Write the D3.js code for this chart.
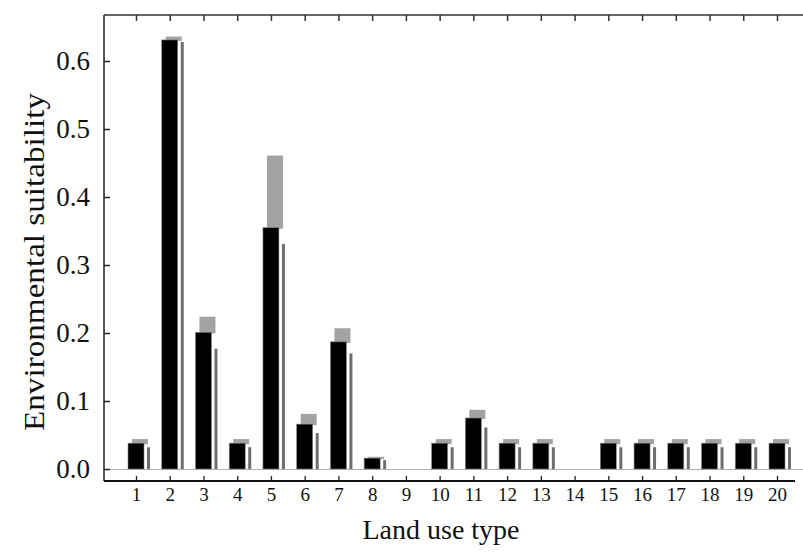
<!DOCTYPE html>
<html>
<head>
<meta charset="utf-8">
<script src="https://cdn.jsdelivr.net/npm/d3@7"></script>
<style>
  body { margin: 0; background: #fff; }
  text { font-family: "Liberation Serif", "Times New Roman", serif; fill: #111; }
</style>
</head>
<body>
<div class="chart"></div>
<script>
// ------------------------------------------------------
const width = 803;
const height = 553;
const categories = ['1','2','3','4','5','6','7','8','9','10','11','12','13','14','15','16','17','18','19','20'];
// mean (black), upper (light gray), lower (dark gray sliver)
const meanValues  = [0.038, 0.631, 0.201, 0.038, 0.355, 0.066, 0.187, 0.016, 0, 0.038, 0.075, 0.038, 0.038, 0, 0.038, 0.038, 0.038, 0.038, 0.038, 0.038];
const upperValues = [0.044, 0.636, 0.224, 0.044, 0.461, 0.081, 0.207, 0.018, 0, 0.044, 0.087, 0.044, 0.044, 0, 0.044, 0.044, 0.044, 0.044, 0.044, 0.044];
const lowerValues = [0.032, 0.628, 0.177, 0.032, 0.331, 0.053, 0.170, 0.013, 0, 0.032, 0.061, 0.032, 0.032, 0, 0.032, 0.032, 0.032, 0.032, 0.032, 0.032];
const yTicks = [0, 0.1, 0.2, 0.3, 0.4, 0.5, 0.6];
// ------------------------------------------------------
const plotLeft = 104, plotRight = 803, plotTop = 15, plotBottom = 481;
const x = d3.scalePoint().domain(categories).range([136, 777]);
const y = d3.scaleLinear().domain([0, 0.6]).range([469, 61]);
const barW = 16;

const rows = categories.map((c, i) => ({ cat: c, mean: meanValues[i], upper: upperValues[i], lower: lowerValues[i] }))
  .filter(d => d.mean > 0);

const svg = d3.select('.chart').append('svg')
  .attr('width', width)
  .attr('height', height);

// gray zero line
svg.append('line')
  .attr('x1', plotLeft).attr('x2', plotRight)
  .attr('y1', y(0) + 0.5).attr('y2', y(0) + 0.5)
  .attr('stroke', '#b0b0b0').attr('stroke-width', 1.2);

// dark gray sliver (lower)
svg.selectAll('.lower').data(rows).enter().append('rect')
  .attr('class', 'lower')
  .attr('x', d => x(d.cat) + 11)
  .attr('width', 3)
  .attr('y', d => y(d.lower))
  .attr('height', d => y(0) - y(d.lower))
  .attr('fill', '#6e6e6e');

// light gray cap (upper), offset behind the black bar
svg.selectAll('.upper').data(rows).enter().append('rect')
  .attr('class', 'upper')
  .attr('x', d => x(d.cat) - 4)
  .attr('width', barW)
  .attr('y', d => y(d.upper))
  .attr('height', d => Math.max(0, y(d.mean) - y(d.upper)) + 1)
  .attr('fill', '#a3a3a3');

// black bar (mean)
svg.selectAll('.mean').data(rows).enter().append('rect')
  .attr('class', 'mean')
  .attr('x', d => x(d.cat) - 8)
  .attr('width', barW)
  .attr('y', d => y(d.mean))
  .attr('height', d => y(0) - y(d.mean))
  .attr('fill', '#000')
  .attr('stroke', '#888').attr('stroke-width', 0.6);

// left axis
const yAxis = svg.append('g')
  .attr('transform', 'translate(' + plotLeft + ',0)')
  .call(d3.axisLeft(y).tickValues(yTicks).tickFormat(d3.format('.1f')).tickSizeInner(-6).tickSizeOuter(0).tickPadding(14));
yAxis.select('.domain').attr('d', 'M0,' + plotTop + 'V' + plotBottom).attr('stroke', '#222').attr('stroke-width', 1.5);
yAxis.selectAll('.tick line').attr('stroke', '#222').attr('stroke-width', 1.5);
yAxis.selectAll('text').attr('font-size', 27).attr('fill', '#111').attr('font-family', 'Liberation Serif');

// top axis (ticks only)
const topAxis = svg.append('g')
  .attr('transform', 'translate(0,' + plotTop + ')')
  .call(d3.axisBottom(x).tickSize(6).tickFormat(''));
topAxis.select('.domain').attr('d', 'M' + plotLeft + ',0H' + plotRight).attr('stroke', '#333').attr('stroke-width', 1.5);
topAxis.selectAll('.tick line').attr('stroke', '#333').attr('stroke-width', 1.5);

// bottom axis
const xAxis = svg.append('g')
  .attr('transform', 'translate(0,' + plotBottom + ')')
  .call(d3.axisBottom(x).tickSizeInner(-5).tickSizeOuter(0).tickPadding(7));
xAxis.select('.domain').attr('d', 'M' + plotLeft + ',0H795').attr('stroke', '#111').attr('stroke-width', 2);
xAxis.selectAll('.tick line').attr('stroke', '#222').attr('stroke-width', 1.3);
xAxis.selectAll('text').attr('font-size', 19).attr('fill', '#111').attr('font-family', 'Liberation Serif');

// axis titles
svg.append('text')
  .attr('x', 441).attr('y', 539)
  .attr('text-anchor', 'middle')
  .attr('font-size', 28)
  .text('Land use type');

svg.append('text')
  .attr('transform', 'translate(34,262) rotate(-90)')
  .attr('text-anchor', 'middle')
  .attr('dy', '0.35em')
  .attr('font-size', 29)
  .attr('textLength', 338)
  .attr('lengthAdjust', 'spacingAndGlyphs')
  .text('Environmental suitability');
</script>
</body>
</html>
